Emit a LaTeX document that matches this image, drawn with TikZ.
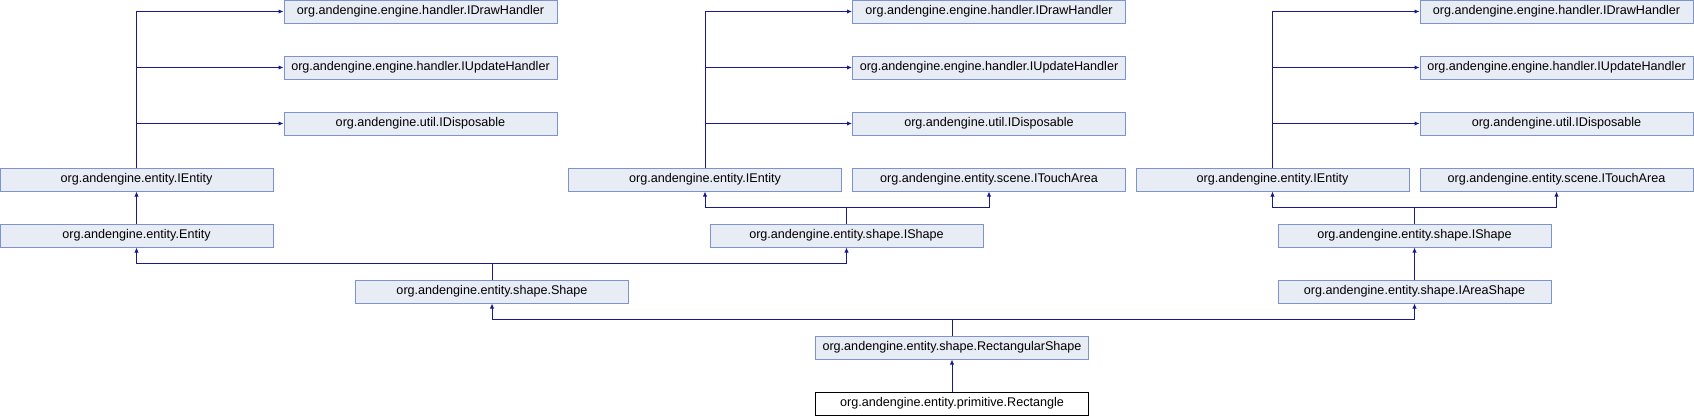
\documentclass[tikz,border=0pt]{standalone}
\usepackage{fontspec}
\setmainfont{Liberation Sans}
\usetikzlibrary{arrows.meta}
\definecolor{boxfill}{HTML}{E8ECF5}
\definecolor{boxline}{HTML}{7C93CD}
\definecolor{edgeblue}{HTML}{1A1A8C}
\begin{document}
\begin{tikzpicture}[x=1pt, y=-1pt,
    cls/.style={draw=boxline, fill=boxfill, line width=1pt, minimum width=273pt,
                minimum height=23pt, inner sep=0pt, font=\fontsize{12.6}{14}\selectfont},
    this/.style={cls, draw=black, fill=white},
    inh/.style={draw=edgeblue, line width=1pt, -{Latex[length=5pt,width=4.5pt]}}]
  \useasboundingbox (0,0) rectangle (1694,416);
  % left group
  \node[cls] (dh1) at (420.5,11.5) {org.andengine.engine.handler.IDrawHandler};
  \node[cls] (uh1) at (420.5,67.5) {org.andengine.engine.handler.IUpdateHandler};
  \node[cls] (di1) at (420.5,123.5) {org.andengine.util.IDisposable};
  \node[cls] (ie1) at (136.5,179.5) {org.andengine.entity.IEntity};
  \node[cls] (en) at (136.5,235.5) {org.andengine.entity.Entity};
  % middle group
  \node[cls] (dh2) at (989,11.5) {org.andengine.engine.handler.IDrawHandler};
  \node[cls] (uh2) at (989,67.5) {org.andengine.engine.handler.IUpdateHandler};
  \node[cls] (di2) at (989,123.5) {org.andengine.util.IDisposable};
  \node[cls] (ie2) at (705,179.5) {org.andengine.entity.IEntity};
  \node[cls] (ta2) at (989,179.5) {org.andengine.entity.scene.ITouchArea};
  \node[cls] (is2) at (846.5,235.5) {org.andengine.entity.shape.IShape};
  % right group
  \node[cls] (dh3) at (1556.5,11.5) {org.andengine.engine.handler.IDrawHandler};
  \node[cls] (uh3) at (1556.5,67.5) {org.andengine.engine.handler.IUpdateHandler};
  \node[cls] (di3) at (1556.5,123.5) {org.andengine.util.IDisposable};
  \node[cls] (ie3) at (1272.5,179.5) {org.andengine.entity.IEntity};
  \node[cls] (ta3) at (1556.5,179.5) {org.andengine.entity.scene.ITouchArea};
  \node[cls] (is3) at (1414.5,235.5) {org.andengine.entity.shape.IShape};
  \node[cls] (as3) at (1414.5,291.5) {org.andengine.entity.shape.IAreaShape};
  % bottom
  \node[cls] (sh) at (492,291.5) {org.andengine.entity.shape.Shape};
  \node[cls] (rs) at (952,347.5) {org.andengine.entity.shape.RectangularShape};
  \node[this] (re) at (952,403.5) {org.andengine.entity.primitive.Rectangle};

  \foreach \i in {1,2,3}{
    \draw[inh] (ie\i.north) |- (dh\i.west);
    \draw[inh] (ie\i.north) |- (uh\i.west);
    \draw[inh] (ie\i.north) |- (di\i.west);
  }
  \draw[inh] (en) -- (ie1);
  \draw[inh] (is2.north) -- ++(0,-16.5) -| (ie2.south);
  \draw[inh] (is2.north) -- ++(0,-16.5) -| (ta2.south);
  \draw[inh] (is3.north) -- ++(0,-16.5) -| (ie3.south);
  \draw[inh] (is3.north) -- ++(0,-16.5) -| (ta3.south);
  \draw[inh] (as3) -- (is3);
  \draw[inh] (sh.north) -- ++(0,-16.5) -| (en.south);
  \draw[inh] (sh.north) -- ++(0,-16.5) -| (is2.south);
  \draw[inh] (rs.north) -- ++(0,-16.5) -| (sh.south);
  \draw[inh] (rs.north) -- ++(0,-16.5) -| (as3.south);
  \draw[inh] (re) -- (rs);
\end{tikzpicture}
\end{document}
